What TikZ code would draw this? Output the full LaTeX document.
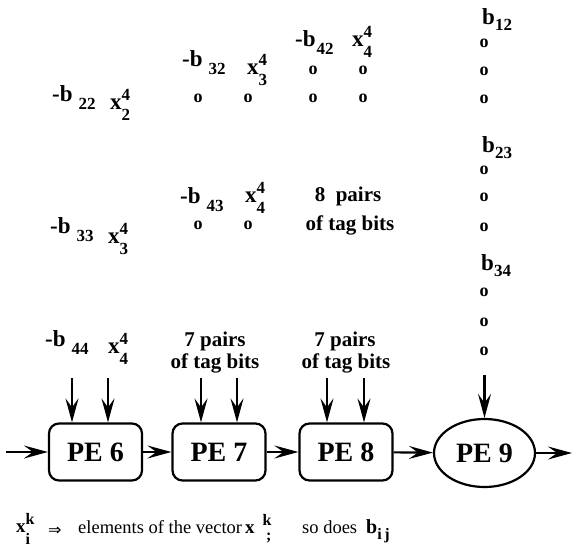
\documentclass[tikz,border=0pt]{standalone}
\usepackage{fontspec}
\setmainfont{Liberation Serif}
\newfontfamily\symfont{DejaVu Sans}
\usetikzlibrary{positioning,arrows.meta,shapes.geometric}

\newcommand{\fsz}[1]{\fontsize{#1}{#1}\selectfont}
\newcommand{\idx}{\fsz{17}\bfseries}
\newcommand{\negb}[1]{-b\hspace{6pt}\raisebox{-8pt}{\idx #1}}
\newcommand{\bval}[1]{b\raisebox{-6pt}{\idx #1}}
\newcommand{\xvec}[2]{x\rlap{\raisebox{9pt}{\idx #1}}\raisebox{-11pt}{\idx #2}}

\tikzset{
    pebox/.style={draw,line width=2.2pt,rounded corners=10pt,minimum width=93pt,
        minimum height=57pt,inner sep=0pt,font=\fsz{28}\bfseries},
    peoval/.style={draw,ellipse,line width=2.2pt,minimum width=101pt,
        minimum height=68pt,inner sep=0pt,font=\fsz{28}\bfseries},
    lbl/.style={anchor=base west,inner sep=0pt,font=\fsz{23}\bfseries},
    tagtxt/.style={anchor=base,inner sep=0pt,font=\fsz{21}\bfseries},
    dotmark/.style={inner sep=0pt,font=\fsz{18}\bfseries},
    legtxt/.style={anchor=base west,inner sep=0pt,font=\fsz{18.5}},
    feed/.style={-{Stealth[length=24pt,width=13pt,inset=9pt]},line width=2.2pt}
}

\begin{document}
\begin{tikzpicture}[x=1pt,y=-1pt]
    \useasboundingbox (0,0) rectangle (572,559);
    % processing elements
    \node[pebox] (pe6) at (95.5,452) {PE 6};
    \node[pebox] (pe7) at (219,452) {PE 7};
    \node[pebox] (pe8) at (346,452) {PE 8};
    \node[peoval] (pe9) at (484.5,453) {PE 9};
    \coordinate (src) at (6,452);
    \coordinate (sink) at (572,453);
    \draw[feed] (src) -- (pe6);
    \draw[feed] (pe6) -- (pe7);
    \draw[feed] (pe7) -- (pe8);
    \draw[feed] (pe8) -- (pe9);
    \draw[feed] (pe9) -- (sink);
    % inputs from above
    \coordinate (in6a) at (72,378);
    \coordinate (in6b) at (108,378);
    \coordinate (in7a) at (201,378);
    \coordinate (in7b) at (237,378);
    \coordinate (in8a) at (327,378);
    \coordinate (in8b) at (364,378);
    \coordinate (in9) at (484.5,375);
    \foreach \c/\p in {in6a/pe6,in6b/pe6,in7a/pe7,in7b/pe7,in8a/pe8,in8b/pe8,in9/pe9}
        \draw[feed] (\c) -- (\c |- \p.north);

    % first column
    \node[lbl] (b22) at (52,102) {\negb{22}};
    \node[lbl] (x2) at (110,110) {\xvec{4}{2}};
    \node[lbl] (b33) at (50,233) {\negb{33}};
    \node[lbl] (x3) at (108,243) {\xvec{4}{3}};
    \node[lbl] (b44) at (45,346) {\negb{44}};
    \node[lbl] (x4) at (108,353) {\xvec{4}{4}};

    % second column
    \node[lbl] (b32) at (182,67) {\negb{32}};
    \node[lbl] (x32) at (247,75) {\xvec{4}{3}};
    \node[dotmark] (d32a) at (198,98) {o};
    \node[dotmark] (d32b) at (248,98) {o};
    \node[lbl] (b43) at (180,203) {\negb{43}};
    \node[lbl] (x43) at (245,202) {\xvec{4}{4}};
    \node[dotmark] (d43a) at (198,225) {o};
    \node[dotmark] (d43b) at (248,225) {o};
    \node[tagtxt] (tag7a) at (215,346) {7 pairs};
    \node[tagtxt] (tag7b) at (215,368) {of tag bits};

    % third column
    \node[lbl] (b42) at (295,47) {-b\hspace{1pt}\raisebox{-8pt}{\idx 42}};
    \node[lbl] (x42) at (352,47) {\xvec{4}{4}};
    \node[dotmark] (d42a) at (313,70) {o};
    \node[dotmark] (d42b) at (363,70) {o};
    \node[dotmark] (d42c) at (313,98) {o};
    \node[dotmark] (d42d) at (363,98) {o};
    \node[tagtxt] (tag8a) at (348,201) {8\ \ pairs};
    \node[tagtxt] (tag8b) at (350,230) {of tag bits};
    \node[tagtxt] (tag7c) at (345,346) {7 pairs};
    \node[tagtxt] (tag7d) at (346,368) {of tag bits};

    % fourth column
    \node[lbl] (b12) at (482,25) {\bval{12}};
    \foreach \y [count=\i] in {43,71,99}
        \node[dotmark] (d12\i) at (484,\y) {o};
    \node[lbl] (b23) at (482,152) {\bval{23}};
    \foreach \y [count=\i] in {170,197,227}
        \node[dotmark] (d23\i) at (484,\y) {o};
    \node[lbl] (b34) at (481,270) {\bval{34}};
    \foreach \y [count=\i] in {292,322,351}
        \node[dotmark] (d34\i) at (484,\y) {o};

    % legend
    \node[lbl,font=\fsz{19}\bfseries] (legx) at (16,532)
        {x\rlap{\raisebox{8pt}{\fsz{16}\bfseries k}}\raisebox{-12pt}{\fsz{16}\bfseries i}};
    \node[legtxt] (legarr) at (48,535) {\symfont\fsz{16}⇒};
    \node[legtxt] (legtxt1) at (78,533) {elements of the vector};
    \node[lbl,font=\fsz{19}\bfseries] (legxk) at (245,533)
        {x\hspace{8pt}\raisebox{8pt}{\fsz{16}\bfseries k}};
    \node[lbl,font=\fsz{16}\bfseries] (legsemi) at (266,540) {;};
    \node[legtxt] (legtxt2) at (302,533) {so does};
    \node[lbl,font=\fsz{20}\bfseries] (legb) at (366,533)
        {b\raisebox{-6pt}{\fsz{16}\bfseries i\,j}};
\end{tikzpicture}
\end{document}
